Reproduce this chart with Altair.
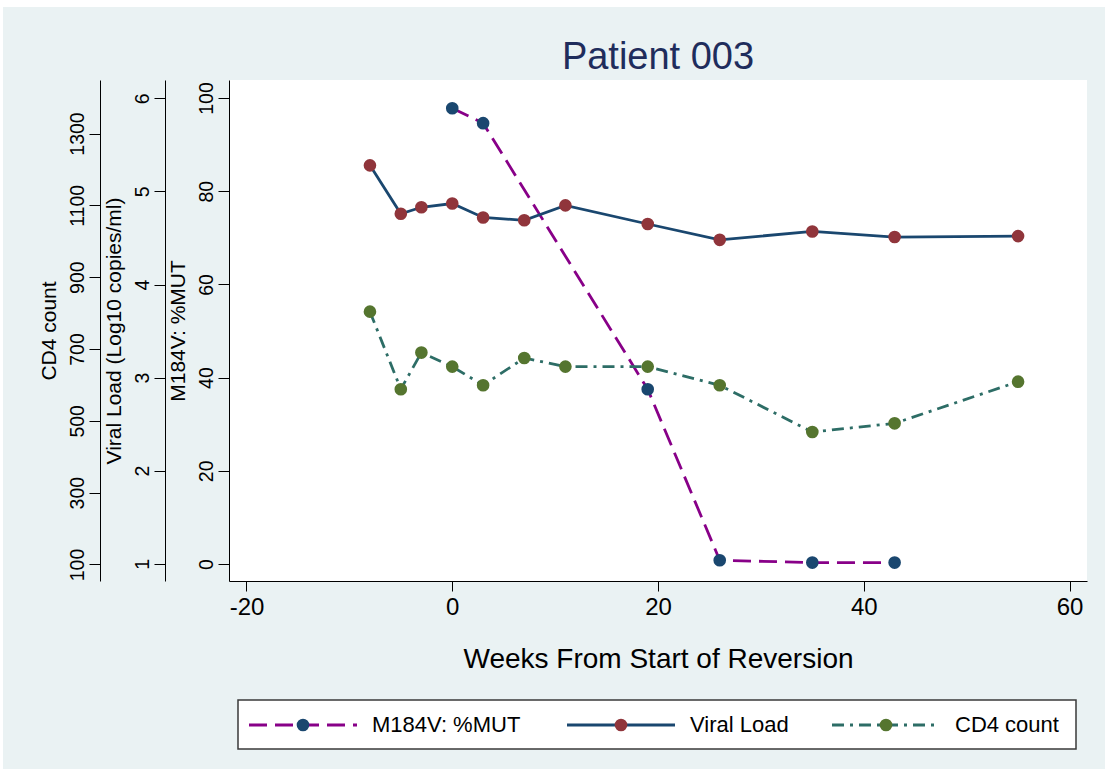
import altair as alt
import pandas as pd

# ---- data -------------------------------------------------------------
weeks_mut = [0, 3, 19, 26, 35, 43]
pct_mut = [97.8, 94.6, 37.5, 0.8, 0.3, 0.3]

weeks_lab = [-8, -5, -3, 0, 3, 7, 11, 19, 26, 35, 43, 55]
viral_load = [5.28, 4.76, 4.83, 4.87, 4.72, 4.69, 4.85, 4.65, 4.48, 4.57, 4.51, 4.52]
cd4_count = [804, 588, 690, 651, 599, 675, 651, 651, 599, 469, 493, 609]

series_names = ["M184V: %MUT", "Viral Load", "CD4 count"]
chart_title = "Patient 003"

x_ticks = [-20, 0, 20, 40, 60]
mut_ticks = [0, 20, 40, 60, 80, 100]
vl_ticks = [1, 2, 3, 4, 5, 6]
cd4_ticks = [100, 300, 500, 700, 900, 1100, 1300]

# ---- style ------------------------------------------------------------
FONT = "Liberation Sans"
BG = "#EAF2F3"
PURPLE = "#880088"
NAVY = "#1A476F"
MAROON = "#90353B"
TEAL = "#2D6D66"
OLIVE = "#55752F"
DASH = [18, 8]
DASHDOT = [12, 6, 3, 6]
MSIZE = 160
LW = 2.8

W, H = 858, 501

mut_df = pd.DataFrame({"week": weeks_mut, "value": pct_mut})
vl_df = pd.DataFrame({"week": weeks_lab, "value": viral_load})
cd4_df = pd.DataFrame({"week": weeks_lab, "value": cd4_count})

# plain ASCII numbers (hyphen-minus, no thousands separator)
PLAIN = "'' + datum.value"

x_enc = alt.X(
    "week:Q",
    scale=alt.Scale(domain=[-21.7, 61.7], nice=False, zero=False),
    axis=alt.Axis(
        values=x_ticks, title="Weeks From Start of Reversion", grid=False,
        labelExpr=PLAIN,
        labelFontSize=24, tickSize=10, labelPadding=4, labelFlush=False,
        titleFontSize=28, titleFontWeight="normal", titleBaseline="alphabetic",
        titleY=86, labelOverlap=False, zindex=1,
    ),
)


def y_axis(title, values, offset):
    return alt.Axis(
        orient="left", offset=offset, values=values, title=title, grid=False,
        labelExpr=PLAIN,
        labelAngle=270, labelAlign="center", labelBaseline="alphabetic",
        labelFontSize=19.5, labelPadding=5.5, tickSize=11, labelFlush=False,
        labelOverlap=False, titleFontSize=21, titleFontWeight="normal",
        titleAngle=270, titleBaseline="middle", titleX=-51, zindex=1,
    )


def series(df, title, values, domain, offset, line_color, dash, point_color):
    y_enc = alt.Y(
        "value:Q",
        scale=alt.Scale(domain=domain, nice=False, zero=False),
        axis=y_axis(title, values, offset),
    )
    line_kwargs = dict(color=line_color, strokeWidth=LW)
    if dash:
        line_kwargs["strokeDash"] = dash
    line = alt.Chart(df).mark_line(**line_kwargs).encode(x=x_enc, y=y_enc)
    pts = alt.Chart(df).mark_circle(size=MSIZE, color=point_color, opacity=1).encode(
        x=x_enc, y=y_enc
    )
    return alt.layer(line, pts)


mut_layer = series(mut_df, "M184V: %MUT", mut_ticks, [-3.65, 103.86], 0,
                   PURPLE, DASH, NAVY)
vl_layer = series(vl_df, "Viral Load (Log10 copies/ml)", vl_ticks, [0.815, 6.197], 64,
                  NAVY, None, MAROON)
cd4_layer = series(cd4_df, "CD4 count", cd4_ticks, [54.06, 1448.96], 129,
                   TEAL, DASHDOT, OLIVE)

one = alt.Data(values=[{}])

# tinted panel inside a thin white page border, then the white plot region
panel = alt.Chart(one).mark_rect(fill=BG).encode(
    x=alt.value(-226), x2=alt.value(876), y=alt.value(-73), y2=alt.value(689)
)
plot_bg = alt.Chart(one).mark_rect(fill="white").encode(
    x=alt.value(0), x2=alt.value(W), y=alt.value(0), y2=alt.value(H)
)

# title centred over the plot region
title_mark = alt.Chart(one).mark_text(
    text=chart_title, font=FONT, fontSize=38, color="#1F2D5C",
    align="center", baseline="alphabetic",
).encode(x=alt.value(W / 2), y=alt.value(-11.5))

# legend below the plot
LEG_Y = 645
legend_box = alt.Chart(one).mark_rect(fill="white", stroke="#3A3A3A", strokeWidth=1.5).encode(
    x=alt.value(9), x2=alt.value(847), y=alt.value(620), y2=alt.value(669)
)


def legend_entry(label, x0, line_color, dash, point_color):
    rule_kwargs = dict(color=line_color, strokeWidth=LW)
    if dash:
        rule_kwargs["strokeDash"] = dash
    rule = alt.Chart(one).mark_rule(**rule_kwargs).encode(
        x=alt.value(x0), x2=alt.value(x0 + 108), y=alt.value(LEG_Y)
    )
    dot = alt.Chart(one).mark_circle(size=MSIZE, color=point_color, opacity=1).encode(
        x=alt.value(x0 + 54), y=alt.value(LEG_Y)
    )
    txt = alt.Chart(one).mark_text(
        text=label, font=FONT, fontSize=22, align="left", baseline="middle", color="black"
    ).encode(x=alt.value(x0 + 123), y=alt.value(LEG_Y))
    return [rule, dot, txt]


legend_layers = (
    legend_entry(series_names[0], 20, PURPLE, DASH, NAVY)
    + legend_entry(series_names[1], 338, NAVY, None, MAROON)
    + legend_entry(series_names[2], 603, TEAL, DASHDOT, OLIVE)
)

chart = (
    alt.layer(panel, plot_bg, title_mark, mut_layer, vl_layer, cd4_layer,
              legend_box, *legend_layers)
    .resolve_scale(y="independent")
    .properties(
        width=W,
        height=H,
        background="white",
        padding={"left": 229, "top": 80, "right": 21, "bottom": 192},
        autosize=alt.AutoSizeParams(type="none"),
    )
    .configure_view(stroke=None, fill=None)
    .configure_axis(
        labelFont=FONT, titleFont=FONT, labelColor="black", titleColor="black",
        domainColor="black", tickColor="black", domainWidth=1, tickWidth=1,
    )
)

chart.save("out.html", embed_options={"renderer": "svg", "actions": False})
